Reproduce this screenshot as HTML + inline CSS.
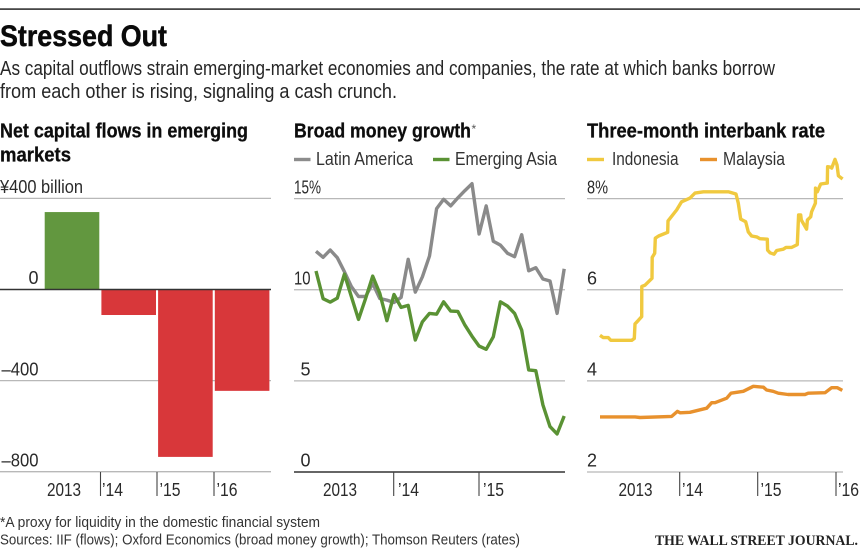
<!DOCTYPE html>
<html lang="en">
<head>
<meta charset="utf-8">
<title>Stressed Out</title>
<style>
html,body{margin:0;padding:0;background:#fff;}
body{width:860px;height:549px;overflow:hidden;}
svg{display:block;}
text{font-family:"Liberation Sans",sans-serif;fill:#222;}
.head{font-weight:700;font-size:20px;fill:#0d0d0d;stroke:#0d0d0d;stroke-width:0.3px;}
.sub{font-size:20px;fill:#262626;}
.leg{font-size:18px;fill:#333;}
.foot{font-size:15px;fill:#333;}
</style>
</head>
<body>
<svg id="root" width="860" height="549" viewBox="0 0 860 549" xmlns="http://www.w3.org/2000/svg">
  <rect width="860" height="549" fill="#fff"/>
  <rect x="0" y="8.3" width="860" height="1.6" fill="#333"/>
  <text x="0" y="46" font-size="30" font-weight="700" style="fill:#0a0a0a;stroke:#0a0a0a;stroke-width:0.5px" textLength="167" lengthAdjust="spacingAndGlyphs">Stressed Out</text>
  <text class="sub" x="0" y="75" textLength="775" lengthAdjust="spacingAndGlyphs">As capital outflows strain emerging-market economies and companies, the rate at which banks borrow</text>
  <text class="sub" x="0" y="98" textLength="397" lengthAdjust="spacingAndGlyphs">from each other is rising, signaling a cash crunch.</text>

  <text class="head" x="0" y="137.5" textLength="248" lengthAdjust="spacingAndGlyphs">Net capital flows in emerging</text>
  <text class="head" x="0" y="161.5" textLength="71" lengthAdjust="spacingAndGlyphs">markets</text>
  <text class="head" x="294" y="137.5" textLength="177" lengthAdjust="spacingAndGlyphs">Broad money growth</text>
  <text x="471.5" y="133" font-size="12" style="fill:#555">*</text>
  <text class="head" x="587" y="137.5" textLength="238" lengthAdjust="spacingAndGlyphs">Three-month interbank rate</text>

  <g>
    <rect x="294" y="157.8" width="16.5" height="3.4" fill="#8c8c8c"/>
    <text class="leg" x="316" y="165" textLength="97" lengthAdjust="spacingAndGlyphs">Latin America</text>
    <rect x="433" y="157.8" width="16.5" height="3.4" fill="#5a9234"/>
    <text class="leg" x="455" y="165" textLength="102" lengthAdjust="spacingAndGlyphs">Emerging Asia</text>
  </g>
  <g>
    <rect x="587" y="157.8" width="17" height="3.4" fill="#f0c93f"/>
    <text class="leg" x="612" y="165" textLength="66.5" lengthAdjust="spacingAndGlyphs">Indonesia</text>
    <rect x="700" y="157.8" width="17" height="3.4" fill="#e8912d"/>
    <text class="leg" x="723" y="165" textLength="62" lengthAdjust="spacingAndGlyphs">Malaysia</text>
  </g>

  <g id="chart-flows"></g>
  <g id="chart-money"></g>
  <g id="chart-rates"></g>

  <text class="foot" x="0" y="527" textLength="320" lengthAdjust="spacingAndGlyphs">*A proxy for liquidity in the domestic financial system</text>
  <text class="foot" x="0" y="544.5" textLength="520" lengthAdjust="spacingAndGlyphs">Sources: IIF (flows); Oxford Economics (broad money growth); Thomson Reuters (rates)</text>
  <text x="655" y="545" font-size="15" font-weight="700" style="font-family:'Liberation Serif',serif;fill:#222" textLength="203" lengthAdjust="spacingAndGlyphs">THE WALL STREET JOURNAL.</text>
</svg>
<script>
// Capital flows data
var flowCategories = ["2013", "'14", "'15", "'16"];
var flowValues = [340, -112, -735, -445];
var flowTicks = [400, 0, -400, -800];
var flowTickLabels = ["¥400 billion", "0", "–400", "–800"];

// Broad money data (monthly)
var latinAmerica = [12.11,11.78,12.18,11.76,10.99,10.16,9.63,9.63,10.35,9.52,9.43,9.30,9.58,11.67,9.87,10.71,11.85,14.45,14.96,14.60,15.04,15.44,15.82,13.06,14.60,12.66,12.45,12.00,11.81,13.02,11.04,11.21,10.59,10.48,8.70,11.15];
var emergingAsia = [11.03,9.51,9.32,9.54,10.86,9.60,8.37,9.52,10.75,9.80,8.30,9.74,9.03,9.14,7.24,8.24,8.70,8.66,9.34,8.83,8.81,8.06,7.45,6.91,6.73,7.42,9.34,9.10,8.70,7.78,5.60,5.56,3.68,2.49,2.09,3.07];
var moneyTicks = [15, 10, 5, 0];
var moneyTickLabels = ["15%", "10", "5", "0"];

// Interbank rate data (month offset from Jan 2013, rate)
var indonesiaMonths = [-0.23,0.28,1.05,1.41,4.64,5.05,5.15,5.67,6.18,6.2,6.69,7.77,7.8,8.18,8.28,8.79,10.18,10.23,11.56,12.33,13.62,14.38,15.67,19.51,20.69,21.05,21.41,22.18,22.59,23.1,23.87,24.38,25.51,25.55,25.92,26.54,26.95,27.97,28.38,29.26,30.13,30.33,30.64,30.74,31.56,31.67,32.18,32.33,32.9,32.92,33.2,33.72,34.74,34.79,35.26,35.41,35.92,36.23,36.44,37.1];
var indonesiaRates = [5.00,4.95,4.95,4.89,4.89,4.93,5.25,5.33,5.41,6.07,6.10,6.25,6.71,6.80,7.13,7.18,7.26,7.51,7.75,7.93,8.01,8.12,8.15,8.15,8.10,7.90,7.55,7.49,7.27,7.18,7.16,7.12,7.11,6.87,6.81,6.78,6.86,6.89,6.93,6.93,6.99,7.64,7.64,7.53,7.33,7.53,7.60,7.71,7.90,8.23,8.15,8.32,8.34,8.70,8.69,8.67,8.86,8.74,8.50,8.43];
var malaysiaMonths = [-0.23,5.15,5.92,10.8,11.67,12.08,13.6,16.18,16.95,17.46,19.26,19.92,21.82,23.36,24.9,25.4,26.4,27.2,28.7,31.3,31.8,34.4,35.4,36.3,37.05];
var malaysiaRates = [3.21,3.21,3.195,3.22,3.33,3.30,3.31,3.40,3.52,3.52,3.62,3.73,3.77,3.88,3.86,3.80,3.77,3.73,3.70,3.70,3.73,3.74,3.85,3.85,3.79];
var rateTicks = [8, 6, 4, 2];
var rateTickLabels = ["8%", "6", "4", "2"];

var yearLabels = ["2013", "’14", "’15", "’16"];

var NS = "http://www.w3.org/2000/svg";
function mk(parent, tag, attrs, txt) {
  var el = document.createElementNS(NS, tag);
  for (var k in attrs) el.setAttribute(k, attrs[k]);
  if (txt !== undefined) el.textContent = txt;
  parent.appendChild(el);
  return el;
}
function linear(d0, d1, r0, r1) {
  return function (v) { return r0 + (v - d0) * (r1 - r0) / (d1 - d0); };
}
function pathFrom(xs, ys) {
  var s = "";
  for (var i = 0; i < xs.length; i++) s += (i ? "L" : "M") + xs[i].toFixed(1) + " " + ys[i].toFixed(1);
  return s;
}
function drawGrid(g, ticks, y, x0, x1, baseDark) {
  ticks.forEach(function (t, i) {
    var dark = baseDark === t;
    var line = mk(g, "line", {x1: x0, x2: x1, y1: y(t), y2: y(t), stroke: dark ? "#333" : "#b8b8b8", "stroke-width": dark ? 1.6 : 1.3});
    
    
  });
}
function drawYLabels(g, labels, ticks, y, anchorX, anchor) {
  ticks.forEach(function (t, i) {
    var a = anchor(i);
    var el = mk(g, "text", {x: a.x, y: y(t) - 5.3, "font-size": 18, "text-anchor": a.a, style: "fill:#2a2a2a"}, labels[i]);
    if (a.w) { el.setAttribute("textLength", a.w); el.setAttribute("lengthAdjust", "spacingAndGlyphs"); }
    
    
  });
}
function drawXTicks(g, positions, labels, lx, axisY) {
  positions.forEach(function (p) {
    var t = mk(g, "line", {x1: p, x2: p, y1: axisY, y2: axisY + 24, stroke: "#444", "stroke-width": 1.1});
    
    
  });
  labels.forEach(function (l, i) {
    var el = mk(g, "text", {x: lx[i], y: axisY + 24, "font-size": 18, style: "fill:#2a2a2a", textLength: i === 0 ? 34 : 21, lengthAdjust: "spacingAndGlyphs"}, l);
    
    
  });
}
function drawLine(g, xs, ys, color, w, name) {
  var p = mk(g, "path", {d: pathFrom(xs, ys), fill: "none", stroke: color, "stroke-width": w, "stroke-linejoin": "round", "stroke-linecap": "butt"});
  
  
}

/* Capital flows */
(function () {
  var g = document.getElementById("chart-flows");
  var y = linear(0, 400, 289.5, 198.4);
  var bandX = linear(0, 1, 44.7, 101.4);
  var barW = 54.6;
  drawGrid(g, [400, -400, -800], y, 0, 271);
  flowValues.forEach(function (v, i) {
    var top = Math.min(y(v), y(0));
    var h = Math.abs(y(v) - y(0));
    var b = mk(g, "rect", {x: bandX(i), y: top, width: barW, height: h, fill: v >= 0 ? "#62973f" : "#d8373a"});
    
    
  });
  drawGrid(g, [0], y, 0, 271, 0);
  drawYLabels(g, flowTickLabels, flowTicks, y, 0, function (i) {
    if (i === 0) return {x: 0, a: "start", w: 83};
    if (i === 1) return {x: 38.5, a: "end"};
    return {x: 38.5, a: "end", w: 37};
  });
  drawXTicks(g, [100.5, 157, 214], yearLabels, [47, 102, 159.5, 216.5], 472);
})();

/* Broad money */
(function () {
  var g = document.getElementById("chart-money");
  var y = linear(0, 15, 472, 198.6);
  var x = linear(0, 35, 316, 564.2);
  drawGrid(g, [15, 10, 5], y, 294, 565);
  var xs = latinAmerica.map(function (_, i) { return x(i); });
  drawLine(g, xs, latinAmerica.map(y), "#8a8a8a", 3.4, "line-latin-america");
  drawLine(g, xs, emergingAsia.map(y), "#5a9234", 3.4, "line-emerging-asia");
  drawGrid(g, [0], y, 294, 565, 0);
  drawYLabels(g, moneyTickLabels, moneyTicks, y, 0, function (i) {
    if (i === 0) return {x: 294, a: "start", w: 27};
    if (i === 1) return {x: 294, a: "start", w: 16.5};
    return {x: 310.5, a: "end"};
  });
  drawXTicks(g, [393.7, 479], yearLabels.slice(0, 3), [323, 398, 483], 472);
})();

/* Interbank rates */
(function () {
  var g = document.getElementById("chart-rates");
  var y = linear(2, 8, 472, 198.6);
  var x = linear(0, 12, 601.5, 679.5);
  drawGrid(g, [8, 6, 4, 2], y, 587, 843);
  drawLine(g, malaysiaMonths.map(x), malaysiaRates.map(y), "#e8912d", 3.4, "line-malaysia");
  drawLine(g, indonesiaMonths.map(x), indonesiaRates.map(y), "#f0c93f", 3.4, "line-indonesia");
  drawYLabels(g, rateTickLabels, rateTicks, y, 0, function (i) {
    return {x: 587, a: "start", w: i === 0 ? 21 : undefined};
  });
  drawXTicks(g, [679.7, 757.7, 836], yearLabels, [618.5, 682, 760.5, 838], 472);
})();
</script>
</body>
</html>
